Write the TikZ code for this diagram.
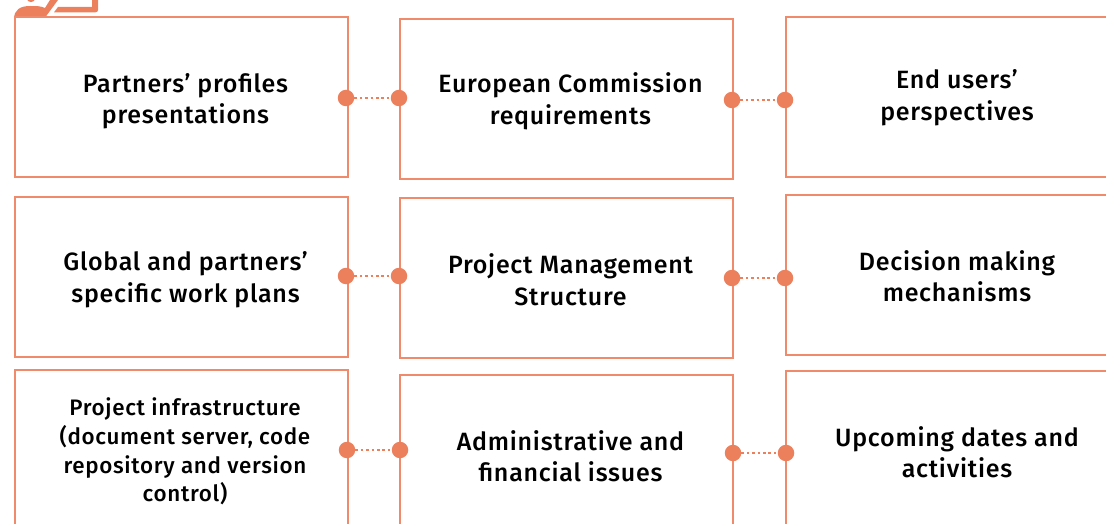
\documentclass[tikz,border=0pt]{standalone}
\usepackage{fontspec}
\setmainfont{Fira Sans Medium}[LetterSpace=3.0]
\definecolor{sal}{HTML}{EC7F5C}
\definecolor{salb}{HTML}{F08A6C}
\tikzset{x=1pt,y=-1pt,
 card/.style={draw=salb,line width=2.4pt,fill=white,anchor=north west,inner sep=0pt},
 lab/.style={align=center,text=black,inner sep=0pt,font=\fontsize{25}{31.5}\selectfont},
 smalllab/.style={lab,font=\fontsize{22.4}{28.8}\selectfont},
 pin/.style={circle,fill=sal,inner sep=0pt,minimum size=16.5pt},
 dots/.style={draw=sal,line width=2.8pt,dash pattern=on 2.5pt off 2.9pt}}
\begin{document}
\begin{tikzpicture}
\useasboundingbox (0,0) rectangle (1106,524);
\clip (0,0) rectangle (1106,524);
% icon
\fill[sal] (14,19) .. controls (14,10) and (20,6) .. (30,6) .. controls (36,6) and (41,6) .. (45,8) -- (50,0) -- (58,0) -- (44,19) -- cycle;
\fill[sal] (31,-2) circle (4.2);
\fill[sal] (58,7) -- (92,7) -- (92,0) -- (98,0) -- (98,10) .. controls (98,11.5) and (97,12.3) .. (95.5,12.3) -- (54,12.3) -- cycle;
% cards
\node[card,minimum width=333pt,minimum height=160pt] (a1) at (13.5,15.8) {};
\node[card,minimum width=333pt,minimum height=160pt] (a2) at (398.5,17.8) {};
\node[card,minimum width=340pt,minimum height=160pt] (a3) at (785,15.8) {};
\node[card,minimum width=333pt,minimum height=160pt] (b1) at (13.5,195.8) {};
\node[card,minimum width=333pt,minimum height=160pt] (b2) at (398.5,196.8) {};
\node[card,minimum width=340pt,minimum height=160pt] (b3) at (785,193.8) {};
\node[card,minimum width=333pt,minimum height=170pt] (c1) at (13.5,368.8) {};
\node[card,minimum width=333pt,minimum height=170pt] (c2) at (398.5,373.8) {};
\node[card,minimum width=340pt,minimum height=170pt] (c3) at (785,369.8) {};
% labels
\node[lab] (t1) at (185.5,101) {Partners’ profiles\\presentations};
\node[lab] (t2) at (570.5,101.5) {European Commission\\requirements};
\node[lab] (t3) at (957,97.5) {End users’\\perspectives};
\node[lab] (t4) at (185.5,279.5) {Global and partners’\\specific work plans};
\node[lab] (t5) at (570.5,279.5) {Project Management\\Structure};
\node[lab] (t6) at (957,276) {Decision making\\mechanisms};
\node[smalllab] (t7) at (185,451.5) {Project infrastructure\\(document server, code\\repository and version\\control)};
\node[lab] (t8) at (570.5,456) {Administrative and\\financial issues};
\node[lab] (t9) at (957,452) {Upcoming dates and\\activities};
% pins
\node[pin] (p1) at (346,98) {}; \node[pin] (q1) at (399,98) {};
\node[pin] (p2) at (732,100) {}; \node[pin] (q2) at (785,100) {};
\node[pin] (p3) at (346,276) {}; \node[pin] (q3) at (399,276) {};
\node[pin] (p4) at (732,278) {}; \node[pin] (q4) at (785,278) {};
\node[pin] (p5) at (347,450) {}; \node[pin] (q5) at (400,450) {};
\node[pin] (p6) at (733,453) {}; \node[pin] (q6) at (786,453) {};
\foreach \i in {1,...,6} \draw[dots] (p\i) -- (q\i);
\end{tikzpicture}
\end{document}
